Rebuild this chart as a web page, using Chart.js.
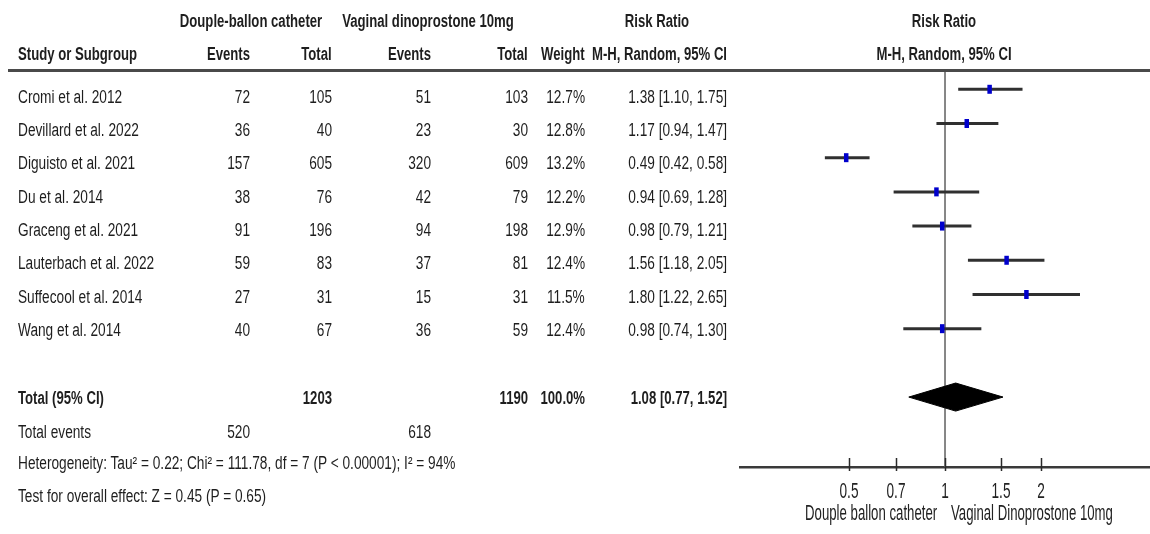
<!DOCTYPE html>
<html>
<head>
<meta charset="utf-8">
<title>Forest plot: Douple-ballon catheter vs vaginal dinoprostone 10mg</title>
<script src="https://cdn.jsdelivr.net/npm/chart.js@4.4.1/dist/chart.umd.min.js"></script>
<style>
  html, body { margin: 0; padding: 0; background: #fff; }
  #wrap {
    position: relative; width: 1150px; height: 534px; overflow: hidden;
    font-family: "Liberation Sans", Arial, sans-serif;
    font-size: 18px; color: #1e1e1e;
  }
  #wrap canvas { position: absolute; left: 0; top: 0; }
  .t { position: absolute; white-space: nowrap; line-height: 20px; height: 20px; }
  .b { font-weight: bold; }
  .ax { font-size: 22px; line-height: 24px; height: 24px; color: #222; }
  .rule { position: absolute; left: 8px; top: 69px; width: 1142px; height: 3px; background: #4a4a4a; }
</style>
</head>
<body>
<div id="wrap">
  <canvas id="c" width="1150" height="534"></canvas>
  <div class="rule"></div>
</div>
<script>
// ---- study data ----
const studies = ["Cromi et al. 2012", "Devillard et al. 2022", "Diguisto et al. 2021", "Du et al. 2014",
                 "Graceng et al. 2021", "Lauterbach et al. 2022", "Suffecool et al. 2014", "Wang et al. 2014"];
const balloonEvents = [72, 36, 157, 38, 91, 59, 27, 40];
const balloonTotal  = [105, 40, 605, 76, 196, 83, 31, 67];
const dinoEvents    = [51, 23, 320, 42, 94, 37, 15, 36];
const dinoTotal     = [103, 30, 609, 79, 198, 81, 31, 59];
const weights       = [12.7, 12.8, 13.2, 12.2, 12.9, 12.4, 11.5, 12.4];
const riskRatio     = [1.38, 1.17, 0.49, 0.94, 0.98, 1.56, 1.80, 0.98];
const ciLower       = [1.10, 0.94, 0.42, 0.69, 0.79, 1.18, 1.22, 0.74];
const ciUpper       = [1.75, 1.47, 0.58, 1.28, 1.21, 2.05, 2.65, 1.30];

// pooled (random effects) estimate
const pooledRR = 1.08, pooledLower = 0.77, pooledUpper = 1.52;
const pooledBalloonTotal = 1203, pooledDinoTotal = 1190, pooledWeight = "100.0%";
const totalBalloonEvents = 520, totalDinoEvents = 618;

// axis
const axisTicks = [0.5, 0.7, 1, 1.5, 2];
const axisMin = 0.2276, axisMax = 4.393;

// ---- plot geometry (rows of the forest plot in y units) ----
const pooledRow = 9;
const yMin = -0.564, yMax = 11.045;
const diamondHalf = 0.41;

const fmt2 = v => v.toFixed(2);
const ciText = (r, l, u) => `${fmt2(r)} [${fmt2(l)}, ${fmt2(u)}]`;

// ---- table text (narrow type: horizontally condensed) ----
const wrap = document.getElementById('wrap');
function put(text, x, yc, align, opts = {}) {
  const s = document.createElement('span');
  const h = opts.axis ? 24 : 20;
  s.className = 't' + (opts.bold ? ' b' : '') + (opts.axis ? ' ax' : '');
  s.textContent = text;
  s.style.top = (yc - h / 2) + 'px';
  const sx = opts.sx || (opts.bold ? 0.73 : 0.76);
  if (align === 'r') {
    s.style.right = (1150 - x) + 'px';
    s.style.transformOrigin = 'right center';
    s.style.transform = `scaleX(${sx})`;
  } else if (align === 'c') {
    s.style.left = x + 'px';
    s.style.transform = `translateX(-50%) scaleX(${sx})`;
  } else {
    s.style.left = x + 'px';
    s.style.transformOrigin = 'left center';
    s.style.transform = `scaleX(${sx})`;
  }
  wrap.appendChild(s);
}

const col = { name: 18, ev1: 250, tot1: 332, ev2: 431, tot2: 528, wt: 585, ci: 727 };
const B = { bold: true };

// headers
put("Douple-ballon catheter", 251, 21, 'c', B);
put("Vaginal dinoprostone 10mg", 428, 21, 'c', B);
put("Risk Ratio", 657, 21, 'c', B);
put("Risk Ratio", 944, 21, 'c', B);
put("Study or Subgroup", col.name, 54, 'l', B);
put("Events", col.ev1, 54, 'r', B);
put("Total", col.tot1, 54, 'r', B);
put("Events", col.ev2, 54, 'r', B);
put("Total", col.tot2, 54, 'r', B);
put("Weight", col.wt, 54, 'r', B);
put("M-H, Random, 95% CI", col.ci, 54, 'r', B);
put("M-H, Random, 95% CI", 944, 54, 'c', B);

// study rows
const textRowY = i => 96.7 + 33.33 * i;
studies.forEach((name, i) => {
  const y = textRowY(i);
  put(name, col.name, y, 'l');
  put(String(balloonEvents[i]), col.ev1, y, 'r');
  put(String(balloonTotal[i]), col.tot1, y, 'r');
  put(String(dinoEvents[i]), col.ev2, y, 'r');
  put(String(dinoTotal[i]), col.tot2, y, 'r');
  put(weights[i].toFixed(1) + '%', col.wt, y, 'r');
  put(ciText(riskRatio[i], ciLower[i], ciUpper[i]), col.ci, y, 'r');
});

// totals
put("Total (95% CI)", col.name, 398, 'l', B);
put(String(pooledBalloonTotal), col.tot1, 398, 'r', B);
put(String(pooledDinoTotal), col.tot2, 398, 'r', B);
put(pooledWeight, col.wt, 398, 'r', B);
put(ciText(pooledRR, pooledLower, pooledUpper), col.ci, 398, 'r', B);
put("Total events", col.name, 431.7, 'l');
put(String(totalBalloonEvents), col.ev1, 431.7, 'r');
put(String(totalDinoEvents), col.ev2, 431.7, 'r');
put("Heterogeneity: Tau\u00B2 = 0.22; Chi\u00B2 = 111.78, df = 7 (P < 0.00001); I\u00B2 = 94%", col.name, 463, 'l');
put("Test for overall effect: Z = 0.45 (P = 0.65)", col.name, 496, 'l');

// ---- forest plot ----
Chart.defaults.font.family = '"Liberation Sans", Arial, sans-serif';
Chart.defaults.font.size = 17;
Chart.defaults.color = '#222';

const whiskers = studies.map((_, i) => ({
  showLine: true,
  data: [{ x: ciLower[i], y: i }, { x: ciUpper[i], y: i }],
  borderColor: '#303030', borderWidth: 3, pointRadius: 0, order: 2
}));

// short tick marks crossing the axis line
const tickMarks = {
  id: 'tickMarks',
  afterDraw(chart) {
    const { ctx, chartArea, scales } = chart;
    ctx.save();
    ctx.strokeStyle = '#2a2a2a';
    ctx.lineWidth = 1.5;
    scales.x.ticks.forEach(t => {
      const x = Math.round(scales.x.getPixelForValue(t.value)) + 0.5;
      ctx.beginPath();
      ctx.moveTo(x, chartArea.bottom - 9);
      ctx.lineTo(x, chartArea.bottom + 4);
      ctx.stroke();
    });
    ctx.restore();
  }
};

const chart = new Chart(document.getElementById('c'), {
  type: 'scatter',
  data: {
    datasets: [
      { // line of no effect
        showLine: true,
        data: [{ x: 1, y: yMin }, { x: 1, y: yMax }],
        borderColor: '#6a6a6a', borderWidth: 1.6, pointRadius: 0, order: 3
      },
      ...whiskers,
      { // study point estimates
        data: riskRatio.map((v, i) => ({ x: v, y: i })),
        pointStyle: 'line', rotation: 90, pointRadius: 4.5,
        borderColor: '#0000cc', pointBorderWidth: 4.5, backgroundColor: '#0000cc', order: 1
      },
      { // pooled diamond
        showLine: true,
        data: [
          { x: pooledLower, y: pooledRow },
          { x: pooledRR, y: pooledRow - diamondHalf },
          { x: pooledUpper, y: pooledRow },
          { x: pooledRR, y: pooledRow + diamondHalf },
          { x: pooledLower, y: pooledRow }
        ],
        fill: 'shape', backgroundColor: '#000', borderColor: '#000', borderWidth: 1,
        pointRadius: 0, tension: 0, order: 0
      }
    ]
  },
  options: {
    responsive: false,
    animation: false,
    events: [],
    layout: { autoPadding: false, padding: { left: 740, top: 70, right: 0, bottom: 0 } },
    plugins: { legend: { display: false }, tooltip: { enabled: false } },
    scales: {
      x: {
        type: 'logarithmic', position: 'bottom',
        min: axisMin, max: axisMax, bounds: 'data',
        afterBuildTicks: s => { s.ticks = axisTicks.map(v => ({ value: v })); },
        afterFit: s => { s.height = 67; s.paddingLeft = 0; s.paddingRight = 0; },
        grid: { display: true, drawOnChartArea: false, drawTicks: false },
        border: { display: true, color: '#3a3a3a', width: 2.5 },
        ticks: { display: false, autoSkip: false, maxRotation: 0 }
      },
      y: { type: 'linear', reverse: true, min: yMin, max: yMax, display: false }
    }
  },
  plugins: [tickMarks]
});

// axis tick labels and favour labels, placed from the x scale
const xs = chart.scales.x;
const axisTop = chart.chartArea.bottom;
const AX = { axis: true, sx: 0.62 };
xs.ticks.forEach(t => put(String(t.value), xs.getPixelForValue(t.value), axisTop + 24, 'c', AX));
const x1 = xs.getPixelForValue(1);
const FAV = { axis: true, sx: 0.6 };
put("Douple ballon catheter", x1 - 8, 513, 'r', FAV);
put("Vaginal Dinoprostone 10mg", x1 + 6, 513, 'l', FAV);
</script>
</body>
</html>
